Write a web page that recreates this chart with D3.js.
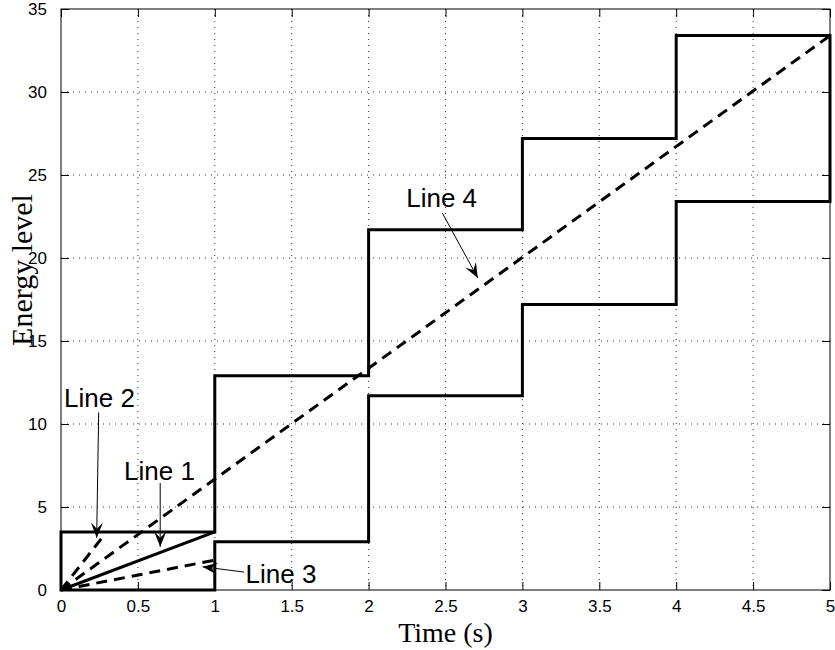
<!DOCTYPE html>
<html>
<head>
<meta charset="utf-8">
<script src="https://cdn.jsdelivr.net/npm/d3@7"></script>
<style>
  body { margin: 0; background: #fff; }
  svg { display: block; }
</style>
</head>
<body>
<svg id="drawing_region"></svg>
<script>
// step levels of the two staircases (value held over [t, t+1))
const stepTimes = [0, 1, 2, 3, 4, 5];
const upperLevels = [3.5, 12.9, 21.7, 27.2, 33.4];
const lowerLevels = [0, 2.9, 11.7, 17.2, 23.4];

// straight lines from origin
const line1 = [[0, 0], [1, 3.5]];
const line2 = [[0, 0], [0.28, 3.3]];
const line3 = [[0, 0], [1, 1.8]];
const line4 = [[0, 0], [5, 33.4]];

const xTicks = [0, 0.5, 1, 1.5, 2, 2.5, 3, 3.5, 4, 4.5, 5];
const yTicks = [0, 5, 10, 15, 20, 25, 30, 35];

// annotations: label, text position, arrow tail, arrow head (data units)
const notes = [
  { label: "Line 2", text: [0.25, 11.55], anchor: "middle", tail: [0.245, 10.7], head: [0.232, 3.15] },
  { label: "Line 1", text: [0.64, 7.2], anchor: "middle", tail: [0.645, 6.45], head: [0.645, 2.6] },
  { label: "Line 3", text: [1.2, 1.0], anchor: "start", tail: [1.19, 1.08], head: [0.92, 1.4] },
  { label: "Line 4", text: [2.475, 23.65], anchor: "middle", tail: [2.48, 22.7], head: [2.71, 18.8] },
];

const config = {
  width: 835,
  height: 650,
  margin: { top: 9, right: 5, bottom: 60, left: 61 },
};

const svg = d3.select("#drawing_region")
  .attr("width", config.width)
  .attr("height", config.height);

const inner_width = config.width - config.margin.left - config.margin.right;
const inner_height = config.height - config.margin.top - config.margin.bottom;

const chart = svg.append("g")
  .attr("transform", `translate(${config.margin.left}, ${config.margin.top})`);

const xscale = d3.scaleLinear().domain([0, 5]).range([0, inner_width]);
const yscale = d3.scaleLinear().domain([0, 35]).range([inner_height, 0]);

// grid
chart.append("g")
  .selectAll("line")
  .data(xTicks.slice(1, -1))
  .join("line")
  .attr("x1", d => xscale(d)).attr("x2", d => xscale(d))
  .attr("y1", 0).attr("y2", inner_height)
  .attr("stroke", "#333").attr("stroke-width", 1)
  .attr("stroke-dasharray", "1,5");
chart.append("g")
  .selectAll("line")
  .data(yTicks.slice(1, -1))
  .join("line")
  .attr("x1", 0).attr("x2", inner_width)
  .attr("y1", d => yscale(d)).attr("y2", d => yscale(d))
  .attr("stroke", "#333").attr("stroke-width", 1)
  .attr("stroke-dasharray", "1,5");

// axes with inward ticks
const tickFont = "'Liberation Sans', Arial, sans-serif";
const xaxis = d3.axisBottom(xscale).tickValues(xTicks).tickSize(-8).tickPadding(10)
  .tickFormat(d3.format("~g"));
const yaxis = d3.axisLeft(yscale).tickValues(yTicks).tickSize(-8).tickPadding(14);

const xg = chart.append("g").attr("transform", `translate(0, ${inner_height})`).call(xaxis);
const yg = chart.append("g").call(yaxis);
chart.append("g").call(d3.axisTop(xscale).tickValues(xTicks).tickSize(-8).tickFormat(""));
chart.append("g").attr("transform", `translate(${inner_width}, 0)`)
  .call(d3.axisRight(yscale).tickValues(yTicks).tickSize(-8).tickFormat(""));

chart.selectAll(".domain").remove();
chart.selectAll(".tick line").attr("stroke", "#000");
[xg, yg].forEach(g => g.selectAll("text")
  .attr("font-family", tickFont).attr("font-size", "17px").attr("fill", "#000"));

chart.append("rect")
  .attr("x", 0).attr("y", 0)
  .attr("width", inner_width).attr("height", inner_height)
  .attr("fill", "none").attr("stroke", "#000").attr("stroke-width", 1);

// staircase outline
const outline = [];
upperLevels.forEach((v, i) => {
  outline.push([stepTimes[i], v], [stepTimes[i + 1], v]);
});
for (let i = lowerLevels.length - 1; i >= 0; i--) {
  outline.push([stepTimes[i + 1], lowerLevels[i]], [stepTimes[i], lowerLevels[i]]);
}

const line = d3.line().x(d => xscale(d[0])).y(d => yscale(d[1]));

chart.append("path")
  .attr("d", line(outline) + "Z")
  .attr("fill", "none").attr("stroke", "#000").attr("stroke-width", 3)
  .attr("stroke-linejoin", "miter");

chart.append("path")
  .attr("d", line(line1))
  .attr("fill", "none").attr("stroke", "#000").attr("stroke-width", 3);

[line2, line3, line4].forEach(pts => {
  chart.append("path")
    .attr("d", line(pts))
    .attr("fill", "none").attr("stroke", "#000").attr("stroke-width", 3)
    .attr("stroke-dasharray", "11,7");
});

// arrow marker
svg.append("defs").append("marker")
  .attr("id", "arrowhead")
  .attr("markerUnits", "userSpaceOnUse")
  .attr("viewBox", "-16 -7 18 14")
  .attr("refX", 0).attr("refY", 0)
  .attr("markerWidth", 18).attr("markerHeight", 14)
  .attr("orient", "auto")
  .append("path")
  .attr("d", "M0,0 L-15,-6 L-9,0 L-15,6 Z")
  .attr("fill", "#000");

const ann = chart.append("g");
ann.selectAll("line")
  .data(notes)
  .join("line")
  .attr("x1", d => xscale(d.tail[0])).attr("y1", d => yscale(d.tail[1]))
  .attr("x2", d => xscale(d.head[0])).attr("y2", d => yscale(d.head[1]))
  .attr("stroke", "#000").attr("stroke-width", 1)
  .attr("marker-end", "url(#arrowhead)");

ann.selectAll("text")
  .data(notes)
  .join("text")
  .attr("x", d => xscale(d.text[0]))
  .attr("y", d => yscale(d.text[1]))
  .attr("text-anchor", d => d.anchor)
  .attr("dy", "0.35em")
  .attr("font-family", tickFont)
  .attr("font-size", "26px")
  .text(d => d.label);

// axis labels
const labelFont = "'Liberation Serif', 'Times New Roman', serif";
svg.append("text")
  .attr("x", config.margin.left + inner_width / 2)
  .attr("y", 642)
  .attr("text-anchor", "middle")
  .attr("font-family", labelFont)
  .attr("font-size", "28px")
  .text("Time (s)");

svg.append("text")
  .attr("transform", "translate(32, 270) rotate(-90)")
  .attr("text-anchor", "middle")
  .attr("font-family", labelFont)
  .attr("font-size", "30px")
  .text("Energy level");
</script>
</body>
</html>
